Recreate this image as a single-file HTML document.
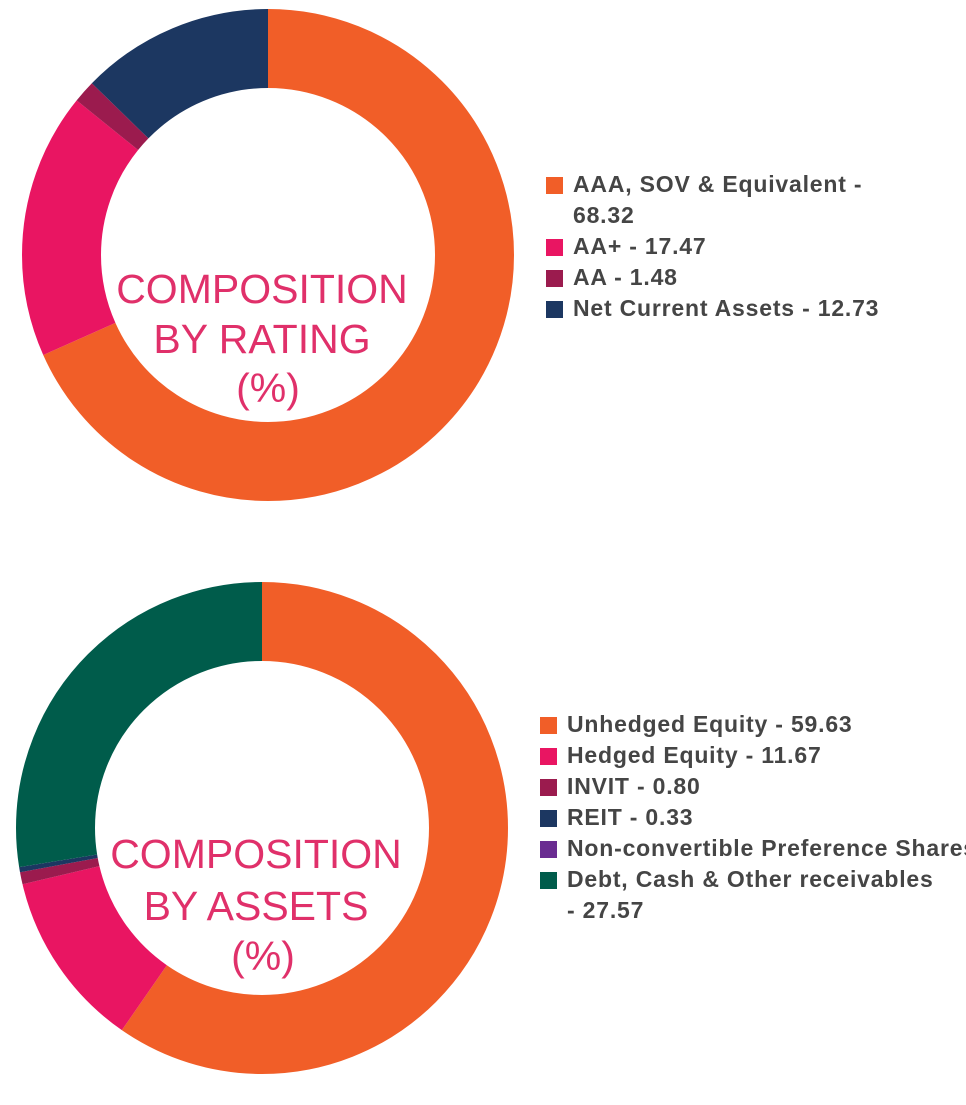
<!DOCTYPE html>
<html><head><meta charset="utf-8"><style>
html,body{margin:0;padding:0;background:#fff;}
body{width:966px;height:1105px;position:relative;overflow:hidden;font-family:"Liberation Sans",sans-serif;}
.lg{position:absolute;font-size:23px;letter-spacing:0.8px;font-weight:bold;color:#454545;line-height:31px;}
.lg div{position:relative;padding-left:27px;white-space:nowrap;}
.lg span{position:absolute;left:0;top:8px;width:17px;height:17px;}
</style></head><body>
<svg width="966" height="1105" style="position:absolute;left:0;top:0">
<g transform="rotate(-90 268 255)" fill="none" stroke-width="79">
<circle cx="268" cy="255" r="206.5" stroke="#F15E28" stroke-dasharray="886.4 2000" stroke-dashoffset="0"/>
<circle cx="268" cy="255" r="206.5" stroke="#E91562" stroke-dasharray="226.7 2000" stroke-dashoffset="-886.4"/>
<circle cx="268" cy="255" r="206.5" stroke="#9B1B4E" stroke-dasharray="19.2 2000" stroke-dashoffset="-1113.1"/>
<circle cx="268" cy="255" r="206.5" stroke="#1C3761" stroke-dasharray="165.4 2000" stroke-dashoffset="-1132.3"/>
</g>
<g transform="rotate(-90 262 828)" fill="none" stroke-width="79">
<circle cx="262" cy="828" r="206.5" stroke="#F15E28" stroke-dasharray="773.7 2000" stroke-dashoffset="0"/>
<circle cx="262" cy="828" r="206.5" stroke="#E91562" stroke-dasharray="151.4 2000" stroke-dashoffset="-773.7"/>
<circle cx="262" cy="828" r="206.5" stroke="#9B1B4E" stroke-dasharray="10.4 2000" stroke-dashoffset="-925.1"/>
<circle cx="262" cy="828" r="206.5" stroke="#1C3761" stroke-dasharray="4.3 2000" stroke-dashoffset="-935.5"/>
<circle cx="262" cy="828" r="206.5" stroke="#005C4B" stroke-dasharray="357.8 2000" stroke-dashoffset="-939.8"/>
</g>
<g font-family="Liberation Sans, sans-serif" font-size="41" fill="#E0306A" text-anchor="middle">
<text x="262" y="303">COMPOSITION</text>
<text x="262" y="353">BY RATING</text>
<text x="268" y="402">(%)</text>
<text x="256" y="868">COMPOSITION</text>
<text x="256" y="920">BY ASSETS</text>
<text x="263" y="970">(%)</text>
</g>
</svg>
<div class="lg" style="left:546px;top:169px;">
<div><span style="background:#F15E28"></span>AAA, SOV &amp; Equivalent -<br>68.32</div>
<div><span style="background:#E91562"></span>AA+ - 17.47</div>
<div><span style="background:#9B1B4E"></span>AA - 1.48</div>
<div><span style="background:#1C3761"></span>Net Current Assets - 12.73</div>
</div>
<div class="lg" style="left:540px;top:709px;">
<div><span style="background:#F15E28"></span>Unhedged Equity - 59.63</div>
<div><span style="background:#E91562"></span>Hedged Equity - 11.67</div>
<div><span style="background:#9B1B4E"></span>INVIT - 0.80</div>
<div><span style="background:#1C3761"></span>REIT - 0.33</div>
<div><span style="background:#6A2C91"></span>Non-convertible Preference Shares</div>
<div><span style="background:#005C4B"></span>Debt, Cash &amp; Other receivables<br>- 27.57</div>
</div>
</body></html>
